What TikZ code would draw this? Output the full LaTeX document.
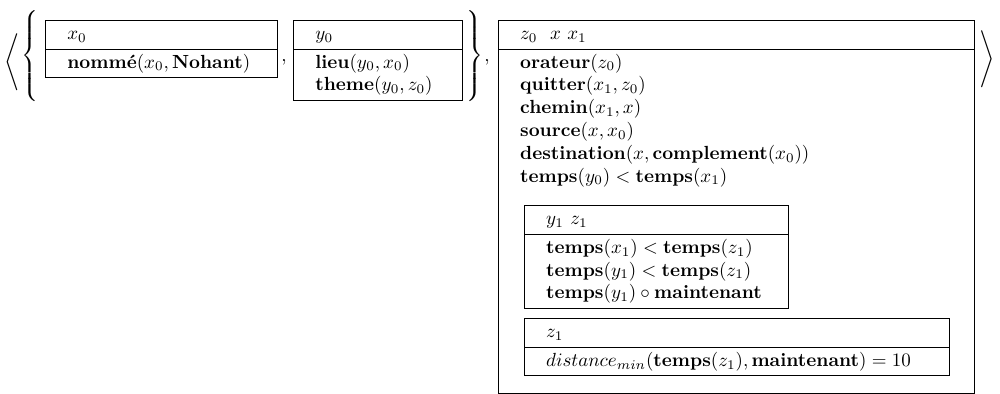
\documentclass[tikz,border=0pt]{standalone}
\usetikzlibrary{shapes.multipart,positioning}
\relpenalty=10000
\binoppenalty=10000

\begin{document}
\begin{tikzpicture}[x=0.5263pt,y=0.5263pt,
	drs/.style={rectangle split, rectangle split parts=2, draw, line width=.5pt,
		align=left, inner xsep=11.5pt, inner ysep=1.3pt, anchor=north west},
	delim/.style={inner sep=0pt}]
	\useasboundingbox (0,0) rectangle (1000,-393);

	\node[delim] (lang) at (13,-62) {$\left\langle\vcenter{\hbox{\rule{0pt}{29pt}}}\right.$};
	\node[delim] (lbr) at (31,-56) {$\left\{\vcenter{\hbox{\rule{0pt}{49pt}}}\right.$};

	\node[drs, text width=99.1pt] (b1) at (45,-20)
		{\strut$x_0$ \nodepart{two} \strut$\textbf{nommé}(x_0,\textbf{Nohant})$};
	\node[anchor=base, inner sep=0pt] (c1) at (284,-61) {,};
	\node[drs, text width=65.9pt, right=15 of b1.north east, anchor=north west] (b2)
		{\strut$y_0$ \nodepart{two} \strut$\textbf{lieu}(y_0,x_0)$\\
		\strut$\textbf{theme}(y_0,z_0)$};

	\node[delim] (rbr) at (474,-56) {$\left.\vcenter{\hbox{\rule{0pt}{49pt}}}\right\}$};
	\node[anchor=base, inner sep=0pt] (c2) at (487,-61) {,};

	\node[drs, text width=227.5pt, right=35 of b2.north east, anchor=north west] (main)
		{\strut$z_0\ \ x\ x_1$ \nodepart{two}
		\strut$\textbf{orateur}(z_0)$\\
		\strut$\textbf{quitter}(x_1,z_0)$\\
		\strut$\textbf{chemin}(x_1,x)$\\
		\strut$\textbf{source}(x,x_0)$\\
		\strut$\textbf{destination}(x,\textbf{complement}(x_0))$\\
		\strut$\textbf{temps}(y_0)<\textbf{temps}(x_1)$\\
		\rule{0pt}{105pt}};

	\node[drs, text width=115.9pt, below right=156 and 26 of main.text split west] (in1)
		{\strut$y_1\ z_1$ \nodepart{two}
		\strut$\textbf{temps}(x_1)<\textbf{temps}(z_1)$\\
		\strut$\textbf{temps}(y_1)<\textbf{temps}(z_1)$\\
		\strut$\textbf{temps}(y_1)\circ\textbf{maintenant}$};
	\node[drs, text width=200.7pt, below=9 of in1.south west, anchor=north west] (in2)
		{\strut$z_1$ \nodepart{two}
		\strut$distance_{min}(\textbf{temps}(z_1),\textbf{maintenant})=10$};

	\node[delim] (rang) at (986,-59) {$\left.\vcenter{\hbox{\rule{0pt}{31pt}}}\right\rangle$};
\end{tikzpicture}
\end{document}
